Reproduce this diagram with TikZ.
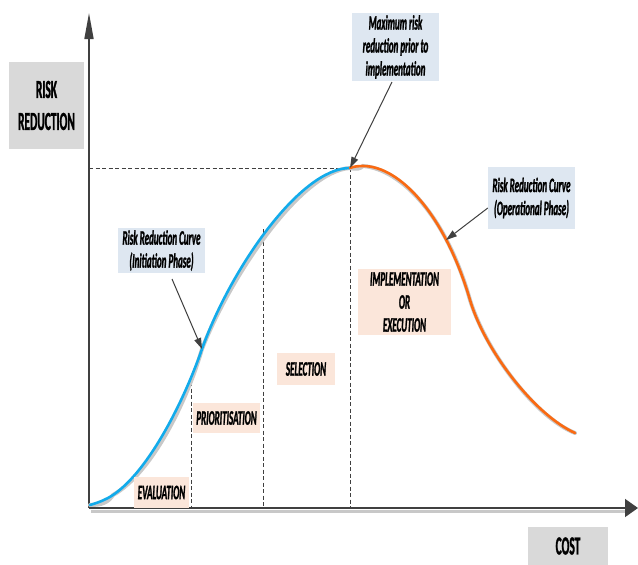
\documentclass[tikz,border=0pt]{standalone}
\usepackage{fontspec}
\setmainfont{Carlito}[FakeStretch=0.44,FakeBold=1.2]
\usetikzlibrary{arrows.meta}
\definecolor{axisgray}{HTML}{404040}
\definecolor{labelgray}{HTML}{D9D9D9}
\definecolor{calloutblue}{HTML}{DEE7F1}
\definecolor{phasepeach}{HTML}{FBE6DA}
\definecolor{curveblue}{HTML}{12ABEB}
\definecolor{curveorange}{HTML}{FA6A12}
\definecolor{shadowgray}{HTML}{C8C8C8}
\tikzset{
  axislabel/.style={fill=labelgray, inner sep=0pt, align=center,
    font=\fontsize{26}{32}\selectfont\bfseries},
  callout/.style={fill=calloutblue, inner sep=0pt, align=center,
    font=\fontsize{20.5}{23}\selectfont\bfseries\itshape},
  phase/.style={fill=phasepeach, inner sep=0pt, align=center,
    font=\fontsize{20.5}{23}\selectfont\bfseries\itshape},
  guide/.style={axisgray, line width=0.8pt, dash pattern=on 4pt off 2.5pt},
  pointer/.style={axisgray, line width=1pt, -{Triangle[length=11pt,width=7pt]}},
  curveshadow/.style={shadowgray, line width=4pt, line cap=round},
}
\begin{document}
\begin{tikzpicture}[x=1pt,y=-1pt]
\useasboundingbox[fill=white] (0,0) rectangle (638,565);

% axes
\coordinate (O) at (89,508);
\coordinate (ytip) at (89,13);
\coordinate (xtip) at (638,508);
\draw[shadowgray, line width=3pt] (91,511) -- (625,511);
\draw[axisgray, line width=1.6pt, -{Triangle[length=26pt,width=9pt]}] (O) -- (ytip);
\draw[axisgray, line width=1.6pt, -{Triangle[length=13pt,width=18pt]}] (O) -- (xtip);

% key points
\coordinate (start) at (90,505);
\coordinate (knee) at (113,495);
\coordinate (pinit) at (202,349);
\coordinate (peak) at (350,168);
\coordinate (top) at (363,166);
\coordinate (oinfl) at (470,300);
\coordinate (oend) at (575,433);
\coordinate (pevalend) at (191,382);
\coordinate (pprioend) at (263,229);
\coordinate (poper) at (446,240);

% dashed guides
\draw[guide] (89,168) -- (peak);
\draw[guide] (peak) -- (350,508);
\draw[guide] (pprioend) -- (263,508);
\draw[guide] (pevalend) -- (191,508);

\def\bluepath{(start) .. controls (100,502) and (106,499.5) .. (knee)
  .. controls (150,470) and (185,398) .. (pinit)
  .. controls (230,270) and (300,168) .. (peak)}
\def\orangepath{(peak) .. controls (354,166.5) and (358,166) .. (top)
  .. controls (400,166) and (445,215) .. (oinfl)
  .. controls (485,351) and (535,415) .. (oend)}

% curve shadows
\draw[curveshadow, xshift=2pt, yshift=-3pt] \bluepath;
\draw[curveshadow, xshift=2pt, yshift=-3pt] \orangepath;

% curves
\draw[curveblue, line width=2.6pt, line cap=round] \bluepath;
\draw[curveorange, line width=2.6pt, line cap=round] \orangepath;

% axis labels
\node[axislabel, minimum width=75pt, minimum height=87pt] (rr) at (46.5,105.5) {RISK\\REDUCTION};
\node[axislabel, minimum width=80pt, minimum height=39pt] (cost) at (568,546) {COST};

% callouts
\node[callout, minimum width=87pt, minimum height=68pt] (maxbox) at (395.5,47) {Maximum risk\\reduction prior to\\implementation};
\node[callout, minimum width=87pt, minimum height=62pt] (operbox) at (531.5,198) {Risk Reduction Curve\\(Operational Phase)};
\node[callout, minimum width=87pt, minimum height=45pt] (initbox) at (161.5,250.5) {Risk Reduction Curve\\(Initiation Phase)};

\draw[pointer] (392,82) -- (peak);
\draw[pointer] (operbox.west |- 0,208) -- (poper);
\draw[pointer] (172,279) -- (pinit);

% phases
\node[phase, minimum width=55pt, minimum height=31pt] (eval) at (161.5,492.5) {EVALUATION};
\node[phase, minimum width=67pt, minimum height=30pt] (prio) at (226.5,418) {PRIORITISATION};
\node[phase, minimum width=58pt, minimum height=32pt] (sel) at (306,369) {SELECTION};
\node[phase, minimum width=93pt, minimum height=66pt] (impl) at (404.5,302) {IMPLEMENTATION\\OR\\EXECUTION};
\end{tikzpicture}
\end{document}
